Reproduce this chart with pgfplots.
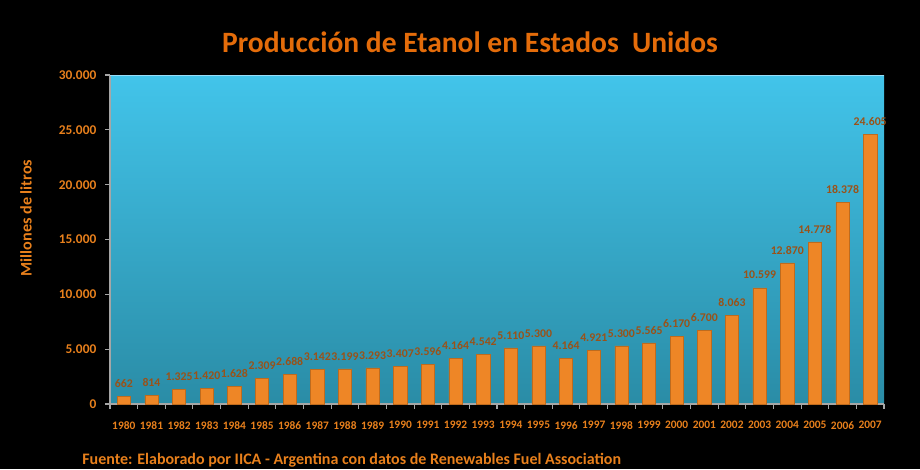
\documentclass[border=0pt]{standalone}
\usepackage{fontspec}
\setmainfont{Carlito}
\usepackage{pgfplots}
\pgfplotsset{compat=1.18}
\definecolor{titleor}{HTML}{E46C0A}
\definecolor{tickor}{HTML}{E8801C}
\definecolor{valbrown}{HTML}{9A5218}
\definecolor{bgtop}{HTML}{42C4EA}
\definecolor{bgbot}{HTML}{2A8CA6}
\definecolor{bardark}{HTML}{EE8626}
\definecolor{barlight}{HTML}{FFAC48}

\pgfplotstableread{
x year val
0 1980 662
1 1981 814
2 1982 1325
3 1983 1420
4 1984 1628
5 1985 2309
6 1986 2688
7 1987 3142
8 1988 3199
9 1989 3293
10 1990 3407
11 1991 3596
12 1992 4164
13 1993 4542
14 1994 5110
15 1995 5300
16 1996 4164
17 1997 4921
18 1998 5300
19 1999 5565
20 2000 6170
21 2001 6700
22 2002 8063
23 2003 10599
24 2004 12870
25 2005 14778
26 2006 18378
27 2007 24605
}\etanol

\begin{document}
\begin{tikzpicture}
\fill[black] (0,0) rectangle (18.4cm,9.38cm);
\begin{axis}[
    at={(2.2cm,1.3cm)}, anchor=south west,
    scale only axis,
    width=15.48cm, height=6.58cm,
    axis background/.style={top color=bgtop, bottom color=bgbot},
    axis lines*=left,
    axis line style={gray!70, line width=0.8pt},
    ybar, bar width=0.48,
    xmin=-0.5, xmax=27.5,
    ymin=0, ymax=30000,
    ytick={0,5000,...,30000},
    scaled y ticks=false,
    xtick={0,...,27},
    xticklabels from table={\etanol}{year},
    minor xtick={-0.5,0.5,...,27.5},
    major x tick style={draw=none},
    tick style={gray!70, line width=0.6pt},
    major tick length=0.1cm, minor tick length=0.1cm,
    tick align=outside,
    /pgf/number format/.cd, fixed, precision=0, 1000 sep={.}, assume math mode=true,
    /pgfplots/.cd,
    yticklabel style={font=\fontsize{7.6}{8}\selectfont\bfseries, text=tickor, xshift=-0.05cm},
    xticklabel style={font=\fontsize{6.5}{7}\selectfont\bfseries, text=tickor, yshift=-0.12cm},
    nodes near coords,
    every node near coord/.append style={font=\fontsize{6.7}{7}\selectfont\bfseries, text=valbrown, yshift=1.5pt},
]
\draw[cyan!40!white, line width=1.2pt] (rel axis cs:0,1) -- (rel axis cs:1,1);
\addplot[draw=bardark!80!black, line width=0.3pt,
    shading=axis, shading angle=90,
    left color=bardark, middle color=barlight, right color=bardark]
    table[x=x, y=val] {\etanol};
\end{axis}
\node[text=titleor, font=\fontsize{16.8}{20}\selectfont\bfseries] at (9.4cm,8.54cm)
    {Producción de Etanol en Estados\ \ Unidos};
\node[text=tickor, font=\fontsize{9.2}{11}\selectfont\bfseries, rotate=90] at (0.52cm,5.02cm)
    {Millones de litros};
\node[text=tickor, font=\fontsize{9.1}{11}\selectfont\bfseries, anchor=west, inner sep=0pt] at (1.64cm,0.18cm)
    {Fuente: Elaborado por IICA - Argentina con datos de Renewables Fuel Association};
\end{tikzpicture}
\end{document}
